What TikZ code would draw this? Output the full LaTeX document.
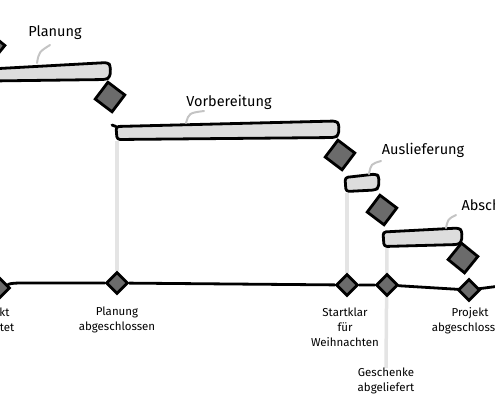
\documentclass[tikz,border=0pt]{standalone}
\usepackage{fontspec}
\setmainfont{Fira Sans}
\usetikzlibrary{shapes.geometric,backgrounds}
\definecolor{barfill}{HTML}{DDDDDD}
\definecolor{msfill}{HTML}{6B6B6B}
\definecolor{callout}{HTML}{C4C4C4}
\definecolor{vline}{HTML}{E4E4E4}
\begin{document}
\begin{tikzpicture}[x=1pt,y=-1pt,
  bar/.style={draw=black,fill=barfill,line width=2.8pt,line join=round,rounded corners=3pt},
  ms/.style={shape=diamond,draw=black,fill=msfill,line width=2.8pt,inner sep=0pt,minimum width=#1,minimum height=#1},
  call/.style={draw=callout,line width=2pt,line cap=round},
  vl/.style={draw=vline,line width=3.5pt},
  tlab/.style={font=\fontsize{14.5}{16}\selectfont},
  mlab/.style={font=\fontsize{11.5}{15}\selectfont,align=center,anchor=north,inner sep=0pt},
  axis/.style={draw=black,line width=2.8pt,line cap=round}]
\useasboundingbox (0,0) rectangle (495,400);
\clip (0,0) rectangle (495,400);

% bars
\draw[bar] (-10,69) -- (108,62.5) -- (110.5,66) -- (110,77) -- (106,79.5) -- (-10,81) -- cycle;
\draw[bar] (116,126.5) -- (336,121) -- (339,124) -- (338.5,135) -- (335,137.5) -- (117,139.5) -- cycle;
\draw[black,line width=2.8pt,line cap=round] (112,125) -- (116,126.5);
\draw[bar] (345,177.5) -- (376,174) -- (379,176.5) -- (378.5,188) -- (375,190) -- (346,191.5) -- cycle;
\draw[bar] (383,232) -- (459,228) -- (462,231) -- (461.5,242) -- (458,244.5) -- (384,246.5) -- cycle;

% bar anchor points
\coordinate (vbP) at (117,141);
\coordinate (vbA) at (347,193);
\coordinate (vbS) at (387,248);

% upper milestones
\node[ms=31,rotate=6] (D0) at (-10,47) {};
\node[ms=31,rotate=8] (D1) at (110,97) {};
\node[ms=31,rotate=8] (D2) at (340,155) {};
\node[ms=31,rotate=8] (D3) at (382,210) {};
\node[ms=31,rotate=6] (D4) at (463,258) {};

% timeline milestones
\node[ms=22] (T0) at (-1,288) {};
\node[ms=22] (T1) at (117,283) {};
\node[ms=22] (T2) at (347,285) {};
\node[ms=22] (T3) at (387,285) {};
\node[ms=22] (T4) at (469,290) {};

% milestone labels
\node[mlab] (M0) at (-9,307) {Projekt\\gestartet};
\node[mlab] (M1) at (117,307) {Planung\\abgeschlossen};
\node[mlab] (M2) at (345,308) {Startklar\\für\\Weihnachten};
\node[mlab] (M3) at (386,368) {Geschenke\\abgeliefert};
\node[mlab] (M4) at (470,307) {Projekt\\abgeschlossen};

% task labels
\node[tlab] (LP) at (55,33) {Planung};
\node[tlab] (LV) at (229,102) {Vorbereitung};
\node[tlab] (LA) at (423,150) {Auslieferung};
\node[tlab,anchor=west] (LS) at (458,205) {Abschluss};

% callouts
\coordinate (cP1) at (37,63);   \coordinate (cP2) at (50,45);
\coordinate (cV1) at (186,123); \coordinate (cV2) at (204,111);
\coordinate (cA1) at (369,174); \coordinate (cA2) at (381,161);
\coordinate (cS1) at (446,228); \coordinate (cS2) at (456,215);
\draw[call] (cP1) .. controls (39,52) .. (cP2);
\draw[call] (cV1) .. controls (189,113) .. (cV2);
\draw[call] (cA1) .. controls (371,164) .. (cA2);
\draw[call] (cS1) .. controls (448,219) .. (cS2);

\begin{pgfonlayer}{background}
\draw[vl] (vbP) -- (T1);
\draw[vl] (vbA) -- (T2);
\draw[vl] (vbS) -- (M3.north);
\draw[axis] (T0) .. controls (12,283) .. (35,283) -- (T1) -- (T2) -- (T3) -- (T4.center) -- (500,286);
\end{pgfonlayer}
\end{tikzpicture}
\end{document}
